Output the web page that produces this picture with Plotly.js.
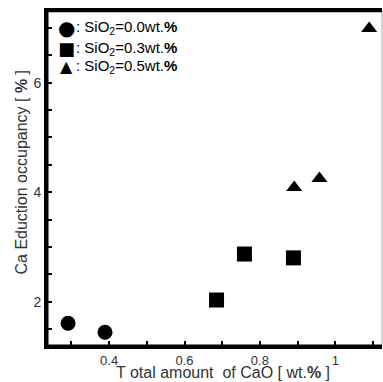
<!DOCTYPE html>
<html>
<head>
<meta charset="utf-8">
<script src="https://cdn.plot.ly/plotly-3.0.1.min.js"></script>
<style>html,body{margin:0;padding:0;background:#fff;}#chart{width:383px;height:382px;}</style>
</head>
<body>
<div id="chart"></div>
<script>
// Data
const sio2_00_x = [0.291, 0.389];
const sio2_00_y = [1.605, 1.44];
const sio2_03_x = [0.685, 0.759, 0.889];
const sio2_03_y = [2.03, 2.87, 2.80];
const sio2_05_x = [0.891, 0.958, 1.09];
const sio2_05_y = [4.086, 4.25, 6.99];
const seriesLabels = [': SiO<sub>2</sub>=0.0wt.<b>%</b>', ': SiO<sub>2</sub>=0.3wt.<b>%</b>', ': SiO<sub>2</sub>=0.5wt.<b>%</b>'];
const legendGlyphs = ['\u25CF', '\u25A0', '\u25B2'];
const xTickVals = [0.4, 0.6, 0.8, 1];
const xTickText = ['0.4', '0.6', '0.8', '1'];
const yTickVals = [2, 4, 6];
const yTickText = ['2', '4', '6'];
const xTitle = 'T otal amount  of CaO [ wt.<b>%</b> ]';
const yTitle = 'Ca Eduction occupancy [ <b>%</b> ]';

const font = 'Liberation Sans, Arial, sans-serif';

const traces = [
  {x: sio2_00_x, y: sio2_00_y, mode: 'markers', type: 'scatter', marker: {symbol: 'circle', size: 15, color: '#000'}},
  {x: sio2_03_x, y: sio2_03_y, mode: 'markers', type: 'scatter', marker: {symbol: 'square', size: 15, color: '#000'}},
  {x: sio2_05_x, y: sio2_05_y, mode: 'markers', type: 'scatter', marker: {symbol: 'triangle-up', size: 14, color: '#000'}}
];

// plot area: x 47..382, y 11..346
const px = v => (v - 47) / 335;
const py = v => (346 - v) / 335;
const legendRowsY = [27.7, 48.3, 66.7];
const glyphSizes = [20, 18, 16];
const annotations = [];
seriesLabels.forEach((t, i) => {
  annotations.push({xref: 'paper', yref: 'paper', x: px(66.5), y: py(legendRowsY[i]), xanchor: 'center', yanchor: 'middle',
    text: legendGlyphs[i], showarrow: false, font: {family: 'DejaVu Sans, sans-serif', size: glyphSizes[i], color: '#000'}});
  annotations.push({xref: 'paper', yref: 'paper', x: px(74), y: py(legendRowsY[i]), xanchor: 'left', yanchor: 'middle',
    text: t, showarrow: false, font: {family: font, size: 15, color: '#000'}});
});
annotations.push({xref: 'paper', yref: 'paper', x: px(223), y: py(372.5), xanchor: 'center', yanchor: 'middle',
  text: xTitle, showarrow: false, font: {family: font, size: 16, color: '#333'}});
annotations.push({xref: 'paper', yref: 'paper', x: px(20.5), y: py(172), xanchor: 'center', yanchor: 'middle',
  text: yTitle, textangle: -90, showarrow: false, font: {family: font, size: 16, color: '#333'}});

const layout = {
  width: 383, height: 382,
  margin: {l: 47, r: 1, t: 11, b: 36},
  showlegend: false,
  xaxis: {range: [0.2351, 1.124], tickmode: 'array', tickvals: xTickVals, ticktext: xTickText,
    ticks: 'inside', ticklen: 5, tickwidth: 2, tickcolor: 'black',
    minor: {dtick: 0.1, ticks: 'inside', ticklen: 5, tickwidth: 2, tickcolor: 'black'},
    showgrid: false, zeroline: false, showline: true, linecolor: 'black', linewidth: 3, mirror: true,
    tickfont: {family: font, size: 13, color: '#333'}},
  yaxis: {range: [1.19, 7.31], tickmode: 'array', tickvals: yTickVals, ticktext: yTickText,
    ticks: 'inside', ticklen: 5, tickwidth: 2, tickcolor: 'black',
    minor: {dtick: 0.5, ticks: 'inside', ticklen: 5, tickwidth: 2, tickcolor: 'black'},
    showgrid: false, zeroline: false, showline: true, linecolor: 'black', linewidth: 3,
    tickfont: {family: font, size: 14, color: '#333'}},
  shapes: [
    {type: 'line', xref: 'paper', yref: 'paper', x0: 1, x1: 1, y0: 0, y1: 1, line: {color: '#aaa', width: 1}},
    {type: 'line', xref: 'paper', yref: 'paper', x0: 0, x1: 0, y0: 0, y1: 1, line: {color: '#000', width: 3}},
    {type: 'line', xref: 'paper', yref: 'paper', x0: 0, x1: 1, y0: 0, y1: 0, line: {color: '#000', width: 3}},
    {type: 'line', xref: 'paper', yref: 'paper', x0: 0, x1: 1, y0: 1, y1: 1, line: {color: '#000', width: 2.5}}
  ],
  annotations: annotations
};

Plotly.newPlot('chart', traces, layout, {displayModeBar: false, staticPlot: true});
</script>
</body>
</html>
